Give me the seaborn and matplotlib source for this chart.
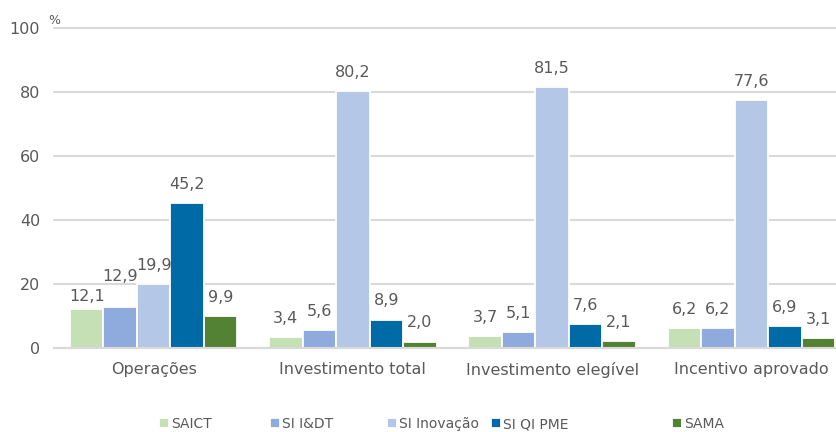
import numpy as np
import pandas as pd
import seaborn as sns
import matplotlib.pyplot as plt

categories = ['Operações', 'Investimento total', 'Investimento elegível', 'Incentivo aprovado']
series = ['SAICT', 'SI I&DT', 'SI Inovação', 'SI QI PME', 'SAMA']
saict = [12.1, 3.4, 3.7, 6.2]
si_idt = [12.9, 5.6, 5.1, 6.2]
si_inovacao = [19.9, 80.2, 81.5, 77.6]
si_qi_pme = [45.2, 8.9, 7.6, 6.9]
sama = [9.9, 2.0, 2.1, 3.1]
colors = ['#c5e0b4', '#8faadc', '#b4c7e7', '#006aa6', '#548235']

values = [saict, si_idt, si_inovacao, si_qi_pme, sama]
rows = []
for s, vals in zip(series, values):
    for c, v in zip(categories, vals):
        rows.append({'cat': c, 'serie': s, 'valor': v})
df = pd.DataFrame(rows)

sns.set_style('white')
plt.rcParams['font.family'] = ['DejaVu Sans']
txt = '#595959'
fs = 11.5

fig = plt.figure(figsize=(8.37, 4.32), dpi=100)
ax = fig.add_axes([54 / 837, 84 / 432, 797 / 837, 320 / 432])

sns.barplot(data=df, x='cat', y='valor', hue='serie', order=categories,
            hue_order=series, palette=colors, width=0.84, gap=0,
            edgecolor='white', linewidth=1.3, saturation=1, ax=ax, legend=True)

# Excel-style label nudging: the two close labels in "Operações" are staggered
for i, cont in enumerate(ax.containers):
    for j, b in enumerate(cont):
        pad = 8
        if (i, j) == (0, 0):
            pad = 4
        elif (i, j) == (1, 0):
            pad = 16
        ax.annotate(f'{b.get_height():.1f}'.replace('.', ','),
                    (b.get_x() + b.get_width() / 2, b.get_height()),
                    xytext=(0, pad), textcoords='offset points',
                    ha='center', va='bottom', fontsize=fs, color=txt)

ax.set_ylim(0, 100)
ax.set_xlim(-0.5, 3.5)
ax.set_yticks(range(0, 101, 20))
ax.set_yticklabels([str(t) for t in range(0, 101, 20)], fontsize=fs, color=txt)
ax.tick_params(axis='x', labelsize=fs, labelcolor=txt, length=0, pad=10)
ax.tick_params(axis='y', length=0, pad=10)
ax.set_xlabel('')
ax.set_ylabel('')
ax.yaxis.grid(True, color='#d9d9d9', linewidth=1.5)
for gl in ax.get_ygridlines():
    gl.set_clip_on(False)
ax.set_axisbelow(True)
for sp in ['top', 'right', 'left']:
    ax.spines[sp].set_visible(False)
ax.spines['bottom'].set_color('#d9d9d9')
ax.spines['bottom'].set_linewidth(1.5)

fig.text(48 / 837, 1 - 20 / 432, '%', fontsize=9, color=txt, va='center')

handles, labels = ax.get_legend_handles_labels()
ax.get_legend().remove()
leg_x = [159, 270, 387, 491, 672]
for h, l, x in zip(handles, labels, leg_x):
    leg = fig.legend([h], [l], loc='center left', bbox_to_anchor=(x / 837, 1 - 424 / 432),
                     frameon=False, fontsize=10, handlelength=0.7, handleheight=0.7,
                     handletextpad=0.15, borderpad=0, borderaxespad=0)
    for t in leg.get_texts():
        t.set_color(txt)

fig.savefig('out.png', dpi=100)
